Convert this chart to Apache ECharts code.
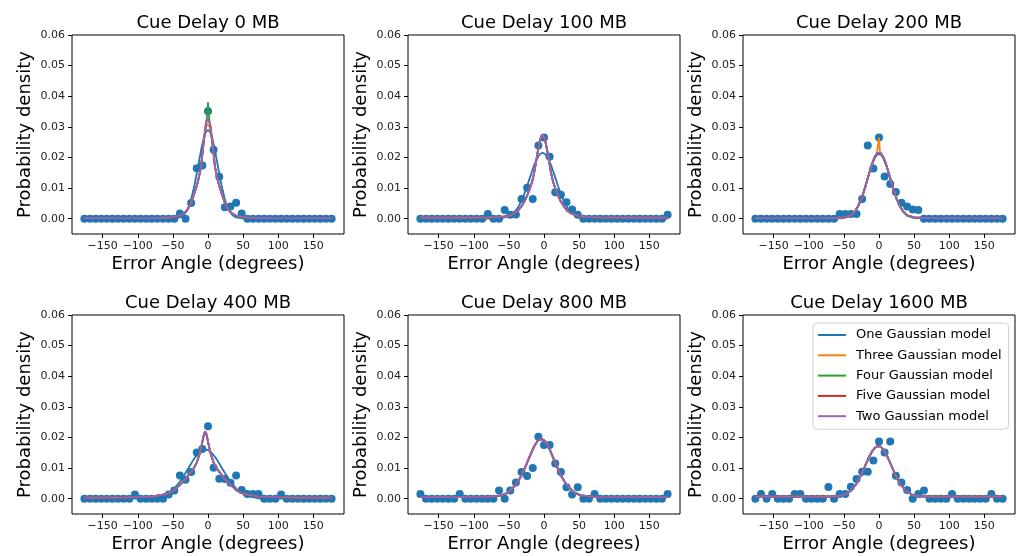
<!DOCTYPE html>
<html>
<head>
<meta charset="utf-8">
<title>Cue Delay error angle densities</title>
<script src="https://cdn.jsdelivr.net/npm/echarts@6/dist/echarts.min.js"></script>
<style>
  html, body { margin: 0; padding: 0; background: #fff; }
  #main { width: 1019px; height: 556px; }
</style>
</head>
<body>
<div id="main"></div>
<script>
// bin centres of the histogram (degrees)
var bins = [-176,-168,-160,-152,-144,-136,-128,-120,-112,-104,-96,-88,-80,-72,-64,-56,-48,-40,-32,-24,-16,-8,0,8,16,24,32,40,48,56,64,72,80,88,96,104,112,120,128,136,144,152,160,168,176];

// observed densities per cue delay
var obs0 = [0,0,0,0,0,0,0,0,0,0,0,0,0,0,0,0,0,0.0017,0,0.0051,0.0165,0.0174,0.0351,0.0225,0.0137,0.0037,0.004,0.0052,0.0017,0,0,0,0,0,0,0,0,0,0,0,0,0,0,0,0];
var obs100 = [0,0,0,0,0,0,0,0,0,0,0,0,0.0015,0,0,0.0028,0.0013,0.0014,0.0064,0.0101,0.0064,0.0239,0.0265,0.0202,0.0086,0.0078,0.0054,0.003,0.0013,0,0,0,0,0,0,0,0,0,0,0,0,0,0,0,0.0013];
var obs200 = [0,0,0,0,0,0,0,0,0,0,0,0,0,0,0,0.0015,0.0015,0.0015,0.0015,0.0064,0.0239,0.0164,0.0265,0.0138,0.0113,0.0087,0.0052,0.004,0.003,0.0028,0,0,0,0,0,0,0,0,0,0,0,0,0,0,0];
var obs400 = [0,0,0,0,0,0,0,0,0,0.0014,0,0,0,0,0,0.0014,0.0027,0.0076,0.0062,0.0087,0.0151,0.0162,0.0237,0.0101,0.0065,0.0064,0.0052,0.0076,0.0028,0.0015,0.0015,0.0015,0,0,0,0.0014,0,0,0,0,0,0,0,0,0];
var obs800 = [0.0015,0,0,0,0,0,0,0.0015,0,0,0,0,0,0,0.0027,0,0.0027,0.0053,0.0087,0.0074,0.01,0.0202,0.0175,0.0175,0.0115,0.0087,0.0037,0.0014,0.0037,0,0,0.0015,0,0,0,0,0,0,0,0,0,0,0,0,0.0015];
var obs1600 = [0,0.0015,0,0.0015,0,0,0,0.0015,0.0015,0,0,0,0,0.0038,0,0.0015,0.0015,0.0039,0.0064,0.0088,0.0088,0.0125,0.0187,0.0151,0.0187,0.0075,0.0053,0.0028,0,0.0015,0.0027,0,0,0,0,0.0015,0,0,0,0,0,0,0.0015,0,0];

// fitted model curves (x samples and densities)
var curveX0 = [-176,-120,-80,-60,-50,-40,-35,-30,-25,-20,-15,-10,-6,-3,-1,0,1,3,6,10,15,20,25,30,35,40,50,60,80,120,176];
var one0   = [0,0,0,0,0.0001,0.0004,0.0011,0.0026,0.0055,0.0101,0.016,0.0222,0.0264,0.0283,0.0289,0.029,0.0289,0.0283,0.0264,0.0222,0.016,0.0101,0.0055,0.0026,0.0011,0.0004,0.0001,0,0,0,0];
var three0 = [0.0002,0.0002,0.0002,0.0003,0.0005,0.001,0.0016,0.0027,0.0046,0.0078,0.0115,0.0168,0.025,0.0298,0.031,0.0312,0.031,0.0298,0.025,0.0168,0.0115,0.0078,0.0046,0.0027,0.0016,0.001,0.0005,0.0003,0.0002,0.0002,0.0002];
var four0  = [0.0002,0.0002,0.0002,0.0003,0.0005,0.001,0.0016,0.0027,0.0046,0.0078,0.0115,0.0168,0.0255,0.0305,0.034,0.038,0.034,0.0305,0.0255,0.0168,0.0115,0.0078,0.0046,0.0027,0.0016,0.001,0.0005,0.0003,0.0002,0.0002,0.0002];
var two0   = [0.0002,0.0002,0.0002,0.0003,0.0005,0.001,0.0016,0.0027,0.0046,0.0078,0.0115,0.0168,0.0255,0.031,0.0328,0.033,0.0328,0.031,0.0255,0.0168,0.0115,0.0078,0.0046,0.0027,0.0016,0.001,0.0005,0.0003,0.0002,0.0002,0.0002];
var five0  = two0;

var curveX100 = [-176,-120,-80,-60,-50,-42,-37,-32,-28,-24,-20,-17,-14,-11,-8,-5,-2,1,4,7,10,13,16,20,24,28,33,38,48,58,78,118,176];
var one100 = [0,0,0,0.0002,0.0008,0.0021,0.0037,0.0059,0.0081,0.0107,0.0135,0.0155,0.0175,0.0191,0.0204,0.0212,0.0215,0.0212,0.0204,0.0191,0.0175,0.0155,0.0135,0.0107,0.0081,0.0059,0.0037,0.0021,0.0006,0.0001,0,0,0];
var two100 = [0.0003,0.0003,0.0004,0.0006,0.0009,0.0018,0.0026,0.0041,0.0056,0.0075,0.01,0.012,0.015,0.019,0.023,0.0262,0.0275,0.0262,0.023,0.019,0.015,0.012,0.01,0.0075,0.0056,0.0041,0.0026,0.0018,0.0009,0.0006,0.0004,0.0003,0.0003];
var three100 = two100, four100 = two100, five100 = two100;

var curveX200 = [-176,-120,-80,-60,-50,-40,-35,-30,-25,-20,-15,-10,-6,-3,-1.5,0,1.5,3,6,10,15,20,25,30,35,40,50,60,80,120,176];
var one200 = [0,0,0,0.0001,0.0002,0.001,0.0022,0.0041,0.0066,0.0101,0.014,0.0176,0.0198,0.0208,0.021,0.0211,0.021,0.0208,0.0198,0.0176,0.014,0.0101,0.0066,0.0041,0.0022,0.001,0.0002,0.0001,0,0,0];
var three200 = [0.0002,0.0002,0.0002,0.0003,0.0004,0.0011,0.0022,0.0039,0.0065,0.01,0.014,0.0179,0.0202,0.0213,0.0214,0.0265,0.0214,0.0213,0.0202,0.0179,0.014,0.01,0.0065,0.0039,0.0022,0.0011,0.0004,0.0003,0.0002,0.0002,0.0002];
var two200 = [0.0002,0.0002,0.0002,0.0003,0.0004,0.0011,0.0022,0.0039,0.0065,0.01,0.014,0.0179,0.0202,0.0213,0.0214,0.0215,0.0214,0.0213,0.0202,0.0179,0.014,0.01,0.0065,0.0039,0.0022,0.0011,0.0004,0.0003,0.0002,0.0002,0.0002];
var four200 = two200, five200 = two200;

var curveX400 = [-176,-120,-80,-60,-50,-40,-32,-25,-20,-16,-12,-9,-7,-5.5,-4,-2.5,-1,1,4,8,12,17,24,32,42,52,72,112,176];
var one400 = [0,0,0.0001,0.0012,0.0028,0.0055,0.0084,0.0111,0.013,0.0142,0.0152,0.0157,0.0159,0.016,0.016,0.016,0.0159,0.0157,0.0152,0.0142,0.013,0.0111,0.0084,0.0055,0.0028,0.0012,0.0001,0,0];
var two400 = [0.0003,0.0004,0.0007,0.0015,0.0025,0.0045,0.0064,0.0085,0.0101,0.0118,0.0145,0.0175,0.0198,0.0212,0.022,0.0212,0.0198,0.0175,0.0145,0.0118,0.0101,0.0085,0.0064,0.0045,0.0025,0.0015,0.0007,0.0004,0.0003];
var three400 = two400, four400 = two400, five400 = two400;

var curveX800 = [-176,-120,-80,-60,-50,-40,-32,-25,-20,-16,-12,-9,-7,-5.5,-4,-2.5,-1,1,4,8,12,17,24,32,42,52,72,112,176];
var two800 = [0.0005,0.0005,0.0006,0.0011,0.0022,0.0046,0.0076,0.0112,0.014,0.0161,0.0179,0.0189,0.0192,0.0194,0.0195,0.0194,0.0192,0.0189,0.0179,0.0161,0.014,0.0112,0.0076,0.0046,0.0022,0.0011,0.0006,0.0005,0.0005];
var one800 = two800, three800 = two800, four800 = two800, five800 = two800;

var curveX1600 = [-176,-120,-80,-60,-50,-40,-32,-25,-20,-15,-10,-6,-3,-1,1,4,8,13,18,23,30,38,48,58,78,118,176];
var two1600 = [0.0007,0.0007,0.0007,0.0008,0.0012,0.0026,0.0049,0.0079,0.0106,0.0132,0.0154,0.0166,0.0171,0.0172,0.0171,0.0166,0.0154,0.0132,0.0106,0.0079,0.0049,0.0026,0.0012,0.0008,0.0007,0.0007,0.0007];
var one1600 = two1600, three1600 = two1600, four1600 = two1600, five1600 = two1600;

var xTicks = [-150,-100,-50,0,50,100,150];
var yTicks = [0,0.01,0.02,0.03,0.04,0.05,0.06];
var modelNames = ['One Gaussian model','Three Gaussian model','Four Gaussian model','Five Gaussian model','Two Gaussian model'];
var modelColors = ['#1f77b4','#ff7f0e','#2ca02c','#d62728','#9467bd'];

var panels = [
  {title: 'Cue Delay 0 MB',    obs: obs0,    cx: curveX0,    models: [one0, three0, four0, five0, two0]},
  {title: 'Cue Delay 100 MB',  obs: obs100,  cx: curveX100,  models: [one100, three100, four100, five100, two100]},
  {title: 'Cue Delay 200 MB',  obs: obs200,  cx: curveX200,  models: [one200, three200, four200, five200, two200]},
  {title: 'Cue Delay 400 MB',  obs: obs400,  cx: curveX400,  models: [one400, three400, four400, five400, two400]},
  {title: 'Cue Delay 800 MB',  obs: obs800,  cx: curveX800,  models: [one800, three800, four800, five800, two800]},
  {title: 'Cue Delay 1600 MB', obs: obs1600, cx: curveX1600, models: [one1600, three1600, four1600, five1600, two1600]}
];

var FONT = 'DejaVu Sans';
var lefts = [72, 408, 743];
var tops = [35, 315];
var W = 272, H = 199;

var grids = [], xAxes = [], yAxes = [], series = [], graphics = [];

function pairs(xs, ys) {
  var out = [];
  for (var i = 0; i < xs.length; i++) out.push([xs[i], ys[i]]);
  return out;
}

panels.forEach(function (p, i) {
  var left = lefts[i % 3], top = tops[Math.floor(i / 3)];
  grids.push({left: left, top: top, width: W, height: H, show: true,
              borderColor: '#000', borderWidth: 1, backgroundColor: '#fff'});
  xAxes.push({
    type: 'value', gridIndex: i, min: -193.6, max: 193.6,
    name: 'Error Angle (degrees)', nameLocation: 'middle', nameGap: 21,
    nameTextStyle: {fontFamily: FONT, fontSize: 18, color: '#000'},
    axisLine: {show: false, onZero: false},
    axisTick: {show: true, length: 4, customValues: xTicks, lineStyle: {color: '#000'}},
    axisLabel: {customValues: xTicks, margin: 7, fontFamily: FONT, fontSize: 11, color: '#222',
                formatter: function (v) { return v < 0 ? '\u2212' + (-v) : String(v); }},
    splitLine: {show: false}
  });
  yAxes.push({
    type: 'value', gridIndex: i, min: -0.005, max: 0.06,
    name: 'Probability density', nameLocation: 'middle', nameGap: 38,
    nameTextStyle: {fontFamily: FONT, fontSize: 18, color: '#000'},
    axisLine: {show: false, onZero: false},
    axisTick: {show: true, length: 4, customValues: yTicks, lineStyle: {color: '#000'}},
    axisLabel: {customValues: yTicks, margin: 7, fontFamily: FONT, fontSize: 11, color: '#222',
                formatter: function (v) { return v.toFixed(2); }},
    splitLine: {show: false}
  });
  graphics.push({
    type: 'text', x: left + W / 2, y: top - 12,
    style: {text: p.title, fontFamily: FONT, fontSize: 18, fill: '#000',
            align: 'center', verticalAlign: 'middle'}
  });
  series.push({
    name: 'data', type: 'scatter', xAxisIndex: i, yAxisIndex: i,
    data: pairs(bins, p.obs), symbolSize: 8,
    itemStyle: {color: '#1f77b4', opacity: 1}, z: 2
  });
  p.models.forEach(function (ys, m) {
    series.push({
      name: modelNames[m], type: 'line', xAxisIndex: i, yAxisIndex: i,
      data: pairs(p.cx, ys), showSymbol: false, symbol: 'none',
      lineStyle: {color: modelColors[m], width: 1.8}, itemStyle: {color: modelColors[m]},
      z: 3 + m
    });
  });
});

var myChart = echarts.init(document.getElementById('main'));
myChart.setOption({
  animation: false,
  backgroundColor: '#fff',
  grid: grids,
  xAxis: xAxes,
  yAxis: yAxes,
  graphic: graphics,
  legend: {
    data: modelNames, orient: 'vertical', left: 813, top: 323,
    icon: 'rect', itemWidth: 28, itemHeight: 2, itemGap: 6.3,
    padding: [5, 7, 6, 5],
    backgroundColor: 'rgba(255,255,255,0.85)', borderColor: '#d0d0d0', borderWidth: 1, borderRadius: 4,
    textStyle: {fontFamily: FONT, fontSize: 13, lineHeight: 14, color: '#000', padding: [0, 0, 0, 5]},
    z: 20
  },
  series: series
});
</script>
</body>
</html>
